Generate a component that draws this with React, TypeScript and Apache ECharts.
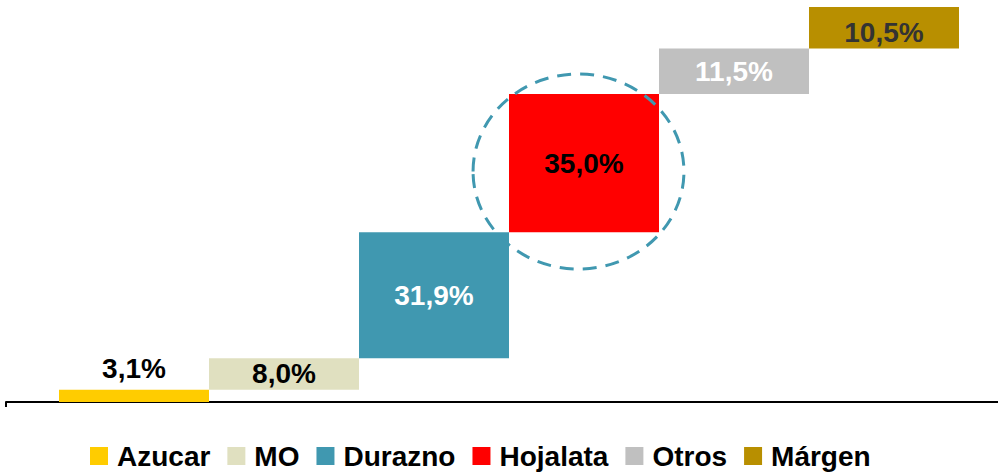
import React, { useEffect, useRef } from "react";
import * as echarts from "echarts";

const categories = ["Azucar", "MO", "Durazno", "Hojalata", "Otros", "Márgen"];
const values = [3.1, 8.0, 31.9, 35.0, 11.5, 10.5];
const colors = ["#FFCC00", "#E0E0C0", "#4098B0", "#FF0000", "#C0C0C0", "#B88F00"];
const labelColors = ["#000000", "#000000", "#FFFFFF", "#000000", "#FFFFFF", "#333333"];
const highlightIndex = 3;

const FONT = "Arial, 'Liberation Sans', sans-serif";

export default function App() {
  const ref = useRef<HTMLDivElement>(null);

  useEffect(() => {
    document.body.style.margin = "0";
    if (!ref.current) return;
    const chart = echarts.init(ref.current, undefined, { renderer: "svg" });

    const bases: number[] = [];
    let acc = 0;
    values.forEach((v) => {
      bases.push(acc);
      acc += v;
    });

    const fmt = (v: number) => v.toFixed(1).replace(".", ",") + "%";

    const barSeries = categories.map((name, i) => ({
      name,
      type: "bar",
      stack: "w",
      barCategoryGap: "0%",
      xAxisIndex: 0,
      yAxisIndex: 0,
      itemStyle: { color: colors[i] },
      label: {
        show: true,
        position: i === 0 ? "top" : "inside",
        distance: 7,
        offset: i === 5 ? [0, 5] : [0, 0],
        formatter: (p: any) => fmt(p.value),
        color: labelColors[i],
        fontFamily: FONT,
        fontWeight: "bold",
        fontSize: 28,
      },
      data: categories.map((_, j) => (j === i ? values[i] : "-")),
    }));

    const option: any = {
      animation: false,
      grid: [
        { left: 59, width: 900, top: 7, height: 395 },
        { left: 6, right: 0, top: 7, height: 395 },
      ],
      xAxis: [
        {
          type: "category",
          gridIndex: 0,
          data: categories,
          axisLine: { show: false },
          axisTick: { show: false },
          axisLabel: { show: false },
        },
        {
          type: "category",
          gridIndex: 1,
          boundaryGap: false,
          data: ["", ""],
          axisLine: { show: true, lineStyle: { color: "#000", width: 2 } },
          axisTick: {
            show: true,
            length: 5,
            interval: (index: number) => index === 0,
            lineStyle: { color: "#000", width: 2 },
          },
          axisLabel: { show: false },
          splitLine: { show: false },
        },
      ],
      yAxis: [
        { type: "value", gridIndex: 0, min: 0, max: 100, show: false },
        { type: "value", gridIndex: 1, min: 0, max: 1, show: false },
      ],
      legend: {
        data: categories,
        left: 90,
        top: 441,
        padding: 0,
        itemWidth: 18,
        itemHeight: 18,
        itemGap: 17,
        icon: "rect",
        textStyle: {
          fontFamily: FONT,
          fontWeight: "bold",
          fontSize: 28,
          lineHeight: 30,
          color: "#000",
          padding: [0, 0, 0, 4],
        },
      },
      series: [
        {
          name: "base",
          type: "bar",
          stack: "w",
          barCategoryGap: "0%",
          silent: true,
          itemStyle: { color: "transparent" },
          data: bases,
        },
        ...barSeries,
        {
          name: "highlight",
          type: "custom",
          xAxisIndex: 0,
          yAxisIndex: 0,
          silent: true,
          z: 10,
          data: [[highlightIndex, bases[highlightIndex] + values[highlightIndex] / 2]],
          renderItem: (params: any, api: any) => {
            const p = api.coord([api.value(0), api.value(1)]);
            const bw = api.size([1, 0])[0];
            return {
              type: "ellipse",
              shape: { cx: p[0] - 5.5, cy: p[1] + 8.5, rx: bw * 0.703, ry: bw * 0.65 },
              style: { fill: "none", stroke: "#4098B0", lineWidth: 3, lineDash: [14, 9] },
            };
          },
        },
      ],
    };

    chart.setOption(option);
    return () => chart.dispose();
  }, []);

  return <div ref={ref} style={{ width: 998, height: 472 }} />;
}
